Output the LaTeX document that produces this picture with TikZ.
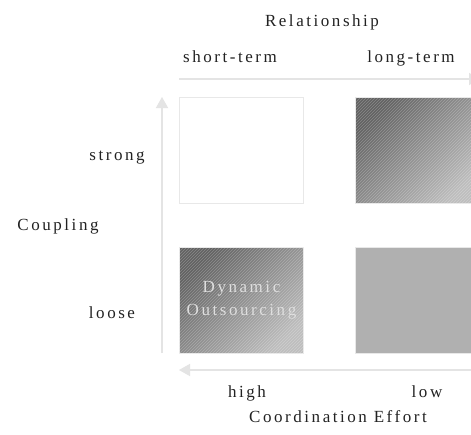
\documentclass[tikz,border=0pt]{standalone}
\usepackage{fontspec}
\setmainfont{Liberation Serif}[LetterSpace=15]
\usetikzlibrary{arrows.meta,patterns}
\definecolor{axisgray}{HTML}{E4E4E4}
\definecolor{boxedge}{HTML}{E8E8E8}
\definecolor{txt}{HTML}{222222}
\definecolor{darkend}{HTML}{626262}
\definecolor{lightend}{HTML}{BEBEBE}
\definecolor{flatgray}{HTML}{B0B0B0}
\definecolor{boxtext}{HTML}{DCDCDC}
\tikzset{
  lbl/.style={font=\fontsize{17}{20}\selectfont, text=txt, inner sep=0pt, anchor=base},
  quad/.style={draw=boxedge, line width=1pt, minimum width=124pt, minimum height=106pt, inner sep=0pt, anchor=north west},
  graded/.style={quad, top color=darkend, bottom color=lightend, shading angle=45},
  hatch/.style={pattern=north east lines, pattern color=white, opacity=0.25},
  axisarrow/.style={draw=axisgray, line width=1.5pt, -{Triangle[length=11pt,width=12pt]}}
}
\begin{document}
\begin{tikzpicture}[x=1pt,y=-1pt]
\useasboundingbox (0,0) rectangle (471,434);
\clip (0,0) rectangle (471,434);
\fill[white] (0,0) rectangle (471,434);
% boxes
\node[quad, fill=white] (tl) at (179,97) {};
\node[graded] (tr) at (355,97) {};
\fill[hatch] (tr.north west) rectangle (tr.south east);
\node[graded, align=center, text=boxtext, font=\fontsize{17}{23}\selectfont] (bl) at (179,247) {Dynamic\\Outsourcing};
\fill[hatch] (bl.north west) rectangle (bl.south east);
\node[quad, fill=flatgray] (br) at (355,247) {};
% axes
\coordinate (vs) at (162,353);
\coordinate (ve) at (162,97);
\coordinate (hs) at (179,79);
\coordinate (he) at (480,79);
\coordinate (bs) at (471,370);
\coordinate (be) at (179,370);
\draw[axisarrow] (vs) -- (ve);
\draw[axisarrow] (hs) -- (he);
\draw[axisarrow] (bs) -- (be);
% labels
\node[lbl] (rel) at (322,26) {Relationship};
\node[lbl] (st) at (230,62) {short-term};
\node[lbl] (lt) at (411,62) {long-term};
\node[lbl] (strong) at (117,160) {strong};
\node[lbl] (loose) at (112,318) {loose};
\node[lbl] (coup) at (58,230) {Coupling};
\node[lbl] (high) at (247,397) {high};
\node[lbl] (low) at (427,397) {low};
\node[lbl] (coord) at (338,422) {Coordination Effort};
\end{tikzpicture}
\end{document}
